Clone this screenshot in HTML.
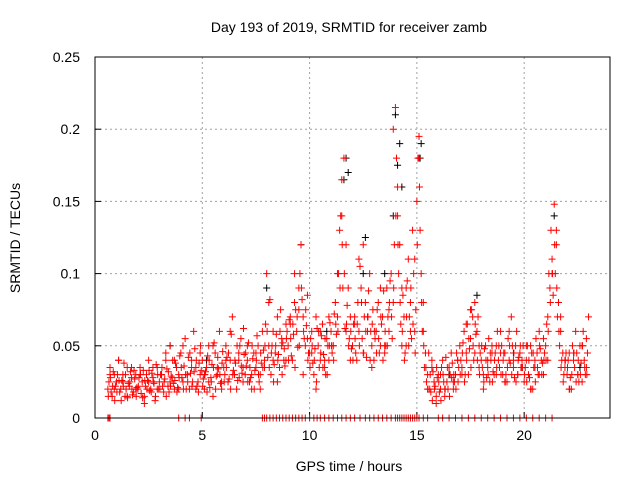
<!DOCTYPE html>
<html><head><meta charset="utf-8"><style>
html,body{margin:0;padding:0;background:#fff;}
svg{display:block;font-family:"Liberation Sans",sans-serif;}
</style></head><body>
<svg id="chart" width="640" height="480" xmlns="http://www.w3.org/2000/svg">
<text x="349" y="32" font-size="14" text-anchor="middle">Day 193 of 2019, SRMTID for receiver zamb</text>
<text transform="translate(20,238) rotate(-90)" font-size="14" text-anchor="middle">SRMTID / TECUs</text>
<text x="349" y="471" font-size="14" text-anchor="middle">GPS time / hours</text>
<g id="grid"></g>
<g id="ticks"></g>
<g id="marks"></g>
<rect x="95" y="57" width="515" height="361" fill="none" stroke="#000" stroke-width="1"/>
</svg>
<script>
const xTicks=[0,5,10,15,20];
const yTicks=[0,0.05,0.1,0.15,0.2,0.25];
const yTickLabels=["0","0.05","0.1","0.15","0.2","0.25"];
const seriesAStart=0.6, seriesAStep=0.1;
const seriesA=[.02,.035,.015,.03,
.025,.04,.02,.03,.015,.035,.022,.028,.018,.03,
.02,.035,.025,.015,.03,.04,.02,.028,.012,.035,
.025,.03,.018,.04,.022,.05,.028,.02,.035,.03,
.045,.025,.055,.03,.02,.04,.06,.035,.025,.03,
.04,.02,.035,.05,.028,.015,.045,.03,.06,.025,
.035,.05,.025,.04,.07,.03,.02,.045,.055,.035,
.03,.04,.025,.02,.045,.035,.05,.03,.06,.04,
.1,.05,.03,.06,.045,.07,.035,.055,.04,.065,
.05,.07,.04,.08,.06,.09,.12,.07,.05,.085,
.045,.06,.03,.07,.05,.04,.065,.035,.055,.04,
.06,.05,.08,.07,.13,.165,.18,.12,.09,.07,
.05,.07,.04,.06,.09,.12,.08,.06,.1,.05,
.04,.06,.08,.05,.07,.045,.09,.06,.1,.08,
.215,.16,.12,.09,.07,.05,.11,.08,.13,.06,
.15,.195,.1,.08,.045,.03,.02,.04,.025,.015,
.03,.02,.04,.015,.025,.035,.045,.02,.03,.04,
.05,.035,.06,.045,.03,.055,.07,.08,.06,.05,
.04,.03,.05,.035,.025,.045,.03,.05,.04,.06,
.03,.045,.025,.04,.07,.035,.05,.03,.045,.04,
.025,.04,.03,.05,.02,.035,.045,.06,.04,.03,
.05,.07,.09,.11,.148,.12,.08,.06,.045,.035,
.03,.045,.02,.04,.06,.03,.05,.025,.04,.055,
.07];
const seriesBStart=0.7, seriesBStep=0.2;
const seriesB=[.03,.02,.04,.025,.015,.035,.02,.03,.01,.025,
.035,.02,.03,.045,.025,.04,.02,.05,.03,.035,
.02,.045,.03,.025,.05,.035,.02,.04,.06,.03,
.04,.025,.05,.03,.045,.02,.035,.08,.04,.025,
.05,.04,.065,.1,.075,.03,.055,.045,.02,.06,
.04,.07,.05,.1,.14,.06,.04,.065,.11,.045,
.07,.035,.06,.09,.05,.075,.2,.14,.05,.09,
.06,.11,.18,.06,.02,.035,.01,.03,.02,.035,
.025,.04,.03,.065,.075,.045,.035,.02,.04,.05,
.03,.045,.025,.06,.04,.03,.035,.05,.02,.04,
.03,.055,.04,.1,.13,.07,.04,.02,.045,.03,
.05,.035];
const seriesCStart=0.65, seriesCStep=0.1;
const seriesC=[.025,.018,.032,.022,
.03,.018,.026,.038,.02,.024,.032,.016,.027,.021,
.028,.017,.033,.022,.026,.019,.031,.024,.037,.02,
.03,.022,.027,.034,.018,.029,.024,.038,.021,.043,
.028,.036,.02,.042,.031,.025,.048,.022,.038,.033,
.027,.032,.043,.021,.037,.052,.029,.034,.024,.046,
.03,.042,.027,.058,.033,.038,.026,.05,.031,.044,
.036,.052,.028,.041,.033,.057,.025,.038,.047,.065,
.042,.082,.05,.037,.058,.044,.075,.052,.036,.06,
.068,.043,.058,.075,.049,.1,.082,.055,.064,.045,
.055,.038,.048,.062,.035,.057,.044,.03,.05,.066,
.045,.072,.058,.1,.14,.09,.062,.078,.055,.048,
.065,.045,.08,.105,.055,.07,.042,.088,.06,.075,
.055,.075,.045,.065,.088,.05,.07,.095,.055,.12,
.18,.1,.065,.085,.045,.095,.07,.055,.1,.075,
.18,.13,.06,.035,.025,.045,.018,.032,.022,.028,
.018,.035,.025,.042,.02,.03,.038,.025,.045,.035,
.04,.052,.03,.065,.048,.075,.04,.058,.07,.045,
.035,.048,.028,.055,.04,.032,.045,.06,.035,.05,
.045,.03,.055,.038,.05,.028,.06,.042,.035,.05,
.035,.05,.028,.045,.035,.055,.03,.048,.038,.045,
.065,.1,.13,.085,.1,.07,.05,.04,.03,.045,
.04,.028,.05,.035,.045,.025,.038,.06,.03,.045];
const seriesDStart=0.62, seriesDStep=0.1;
const seriesD=[.015,.028,.022,.012,
.018,.026,.012,.022,.03,.014,.025,.02,.033,.015,
.022,.03,.014,.026,.02,.033,.018,.025,.015,.03,
.02,.035,.025,.015,.032,.022,.04,.026,.018,.028,
.035,.02,.03,.025,.045,.022,.032,.04,.018,.05,
.022,.03,.018,.04,.025,.035,.02,.042,.03,.038,
.025,.035,.045,.02,.03,.04,.05,.028,.036,.062,
.045,.025,.035,.05,.02,.04,.03,.045,.035,.05,
.06,.035,.045,.025,.05,.04,.06,.03,.048,.055,
.04,.055,.065,.035,.07,.05,.09,.06,.075,.04,
.035,.05,.04,.025,.06,.045,.035,.055,.03,.05,
.05,.04,.065,.06,.09,.12,.1,.065,.05,.06,
.04,.055,.065,.05,.08,.045,.06,.07,.04,.065,
.06,.045,.055,.07,.04,.06,.05,.08,.07,.09,
.14,.12,.08,.06,.04,.07,.05,.09,.065,.045,
.12,.16,.08,.05,.035,.02,.03,.012,.02,.035,
.025,.012,.03,.02,.035,.015,.028,.03,.02,.025,
.03,.045,.025,.04,.055,.035,.05,.065,.04,.03,
.05,.025,.04,.03,.045,.025,.04,.035,.05,.03,
.04,.025,.035,.05,.03,.045,.025,.04,.05,.035,
.03,.025,.04,.02,.045,.025,.035,.05,.03,.04,
.04,.06,.08,.1,.12,.09,.06,.035,.025,.04,
.035,.02,.03,.045,.025,.04,.03,.05,.035,.03];
const zeroTimes=[0.6,0.65,0.7,3.9,4.2,4.4,4.95,7.8,7.9,8.0,8.15,8.3,8.45,8.6,8.75,8.9,9.05,9.2,9.35,9.5,9.65,9.8,10.0,10.2,10.35,10.5,10.7,10.9,11.1,11.3,11.5,11.7,11.9,12.1,12.35,12.6,12.8,13.0,13.2,13.4,13.6,13.8,14.0,14.1,14.2,14.3,14.4,14.5,14.6,14.7,14.8,14.9,15.0,15.1,15.3,15.5,16.0,16.2,16.5,16.8,17.1,17.4,17.7,18.0,18.3,18.6,18.9,19.2,19.5,19.8,20.1,20.4,20.7,21.0,21.3];
const blackTimes=[9.6,11.7,11.8,12.6,14.0,14.2,14.3,15.2,21.4,8.0,17.8,13.5,3.5,5.2,10.8,16.5,19.5,22.6,14.1,13.9,15.15,11.6,12.5];
const blackValues=[.12,.18,.17,.125,.21,.19,.16,.19,.14,.09,.085,.1,.05,.04,.06,.03,.045,.035,.175,.14,.18,.165,.1];

const L=95,R=610,T=57,B=418,xMax=24,yMax=0.25;
const xs=v=>L+(v/xMax)*(R-L);
const ys=v=>B-(v/yMax)*(B-T);
const NS="http://www.w3.org/2000/svg";
const grid=document.getElementById('grid'),ticks=document.getElementById('ticks'),marks=document.getElementById('marks');
function mk(tag,at,parent){const e=document.createElementNS(NS,tag);for(const k in at)e.setAttribute(k,at[k]);parent.appendChild(e);return e;}
xTicks.forEach(t=>{
  const x=xs(t);
  if(t>0){const g=mk('line',{x1:x,x2:x,y1:T,y2:B,stroke:'#a0a0a0','stroke-dasharray':'2,3'},grid);
  
  }
  const tx=mk('text',{x:x,y:B+22,'font-size':14,'text-anchor':'middle'},ticks);tx.textContent=t;
  
  
  mk('line',{x1:x,x2:x,y1:B,y2:B-6,stroke:'#000'},ticks);
});
yTicks.forEach((t,i)=>{
  const y=ys(t);
  if(t>0&&t<yMax){const g=mk('line',{x1:L,x2:R,y1:y,y2:y,stroke:'#a0a0a0','stroke-dasharray':'2,3'},grid);
  
  }
  const tx=mk('text',{x:80,y:y+5,'font-size':14,'text-anchor':'end'},ticks);tx.textContent=yTickLabels[i];
  
  
  mk('line',{x1:L,x2:L+6,y1:y,y2:y,stroke:'#000'},ticks);
});
function plus(t,v,col){
  const x=xs(t),y=ys(v);
  const p=mk('path',{d:`M${x-3.5},${y}h7M${x},${y-3.5}v7`,stroke:col,'stroke-width':1,fill:'none'},marks);
  
  
}
blackTimes.forEach((t,i)=>plus(t,blackValues[i],'#000'));
seriesA.forEach((v,i)=>plus(seriesAStart+i*seriesAStep,v,'#f00'));
seriesB.forEach((v,i)=>plus(seriesBStart+i*seriesBStep,v,'#f00'));
seriesC.forEach((v,i)=>plus(seriesCStart+i*seriesCStep,v,'#f00'));
seriesD.forEach((v,i)=>plus(seriesDStart+i*seriesDStep,v,'#f00'));
zeroTimes.forEach(t=>plus(t,0,'#f00'));
</script>
</body></html>
